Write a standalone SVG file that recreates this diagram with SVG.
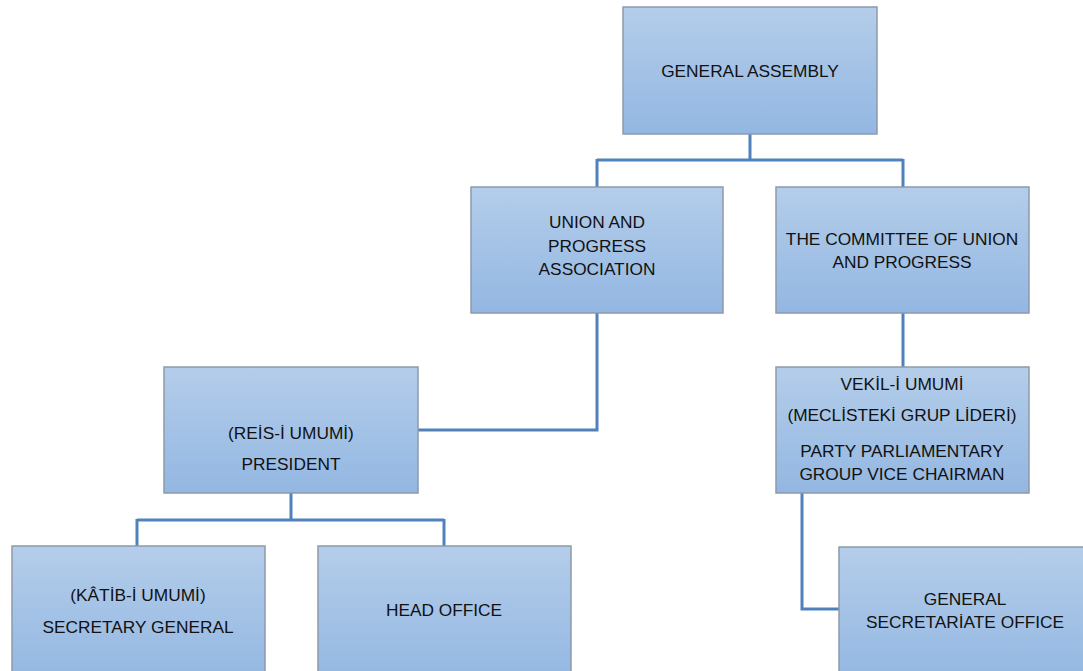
<svg xmlns="http://www.w3.org/2000/svg" width="1083" height="671" viewBox="0 0 1083 671">
<defs>
<linearGradient id="g" x1="0" y1="0" x2="0" y2="1">
<stop offset="0" stop-color="#b4cdea"/>
<stop offset="1" stop-color="#93b7e2"/>
</linearGradient>
</defs>
<style>
.box{fill:url(#g);stroke:#8d9aab;stroke-width:1.5}
.t{font-family:"Liberation Sans",Arial,sans-serif;font-size:17.3px;fill:#111;text-anchor:middle}
.c{fill:none;stroke:#4f81bd;stroke-width:3}
</style>
<rect width="1083" height="671" fill="#fff"/>
<g id="connectors">
<path class="c" d="M750 134V160M597 160H903M597 159V187M903 159V187"/>
<path class="c" d="M903 313V367"/>
<path class="c" d="M597 313V430H418"/>
<path class="c" d="M291 493V520M137 520H444M137 519V546M444 519V546"/>
<path class="c" d="M802 493V609H839"/>
</g>
<g id="general-assembly">
<rect class="box" x="623" y="7" width="254" height="127"/>
<text class="t" x="750" y="77">GENERAL ASSEMBLY</text>
</g>
<g id="union-progress-association">
<rect class="box" x="471" y="187" width="252" height="126"/>
<text class="t" x="597" y="228">UNION AND</text>
<text class="t" x="597" y="252">PROGRESS</text>
<text class="t" x="597" y="275">ASSOCIATION</text>
</g>
<g id="committee">
<rect class="box" x="776" y="187" width="253" height="126"/>
<text class="t" x="902" y="245">THE COMMITTEE OF UNION</text>
<text class="t" x="902" y="268">AND PROGRESS</text>
</g>
<g id="president">
<rect class="box" x="164" y="367" width="254" height="126"/>
<text class="t" x="291" y="439">(REİS-İ UMUMİ)</text>
<text class="t" x="291" y="470">PRESIDENT</text>
</g>
<g id="vekil">
<rect class="box" x="776" y="367" width="253" height="126"/>
<text class="t" x="902" y="390">VEKİL-İ UMUMİ</text>
<text class="t" x="902" y="421">(MECLİSTEKİ GRUP LİDERİ)</text>
<text class="t" x="902" y="457">PARTY PARLIAMENTARY</text>
<text class="t" x="902" y="480">GROUP VICE CHAIRMAN</text>
</g>
<g id="secretary-general">
<rect class="box" x="12" y="546" width="253" height="135"/>
<text class="t" x="138" y="601">(KÂTİB-İ UMUMİ)</text>
<text class="t" x="138" y="633">SECRETARY GENERAL</text>
</g>
<g id="head-office">
<rect class="box" x="318" y="546" width="253" height="135"/>
<text class="t" x="444" y="616">HEAD OFFICE</text>
</g>
<g id="general-secretariate-office">
<rect class="box" x="839" y="547" width="253" height="135"/>
<text class="t" x="965" y="605">GENERAL</text>
<text class="t" x="965" y="628">SECRETARİATE OFFICE</text>
</g>
</svg>
